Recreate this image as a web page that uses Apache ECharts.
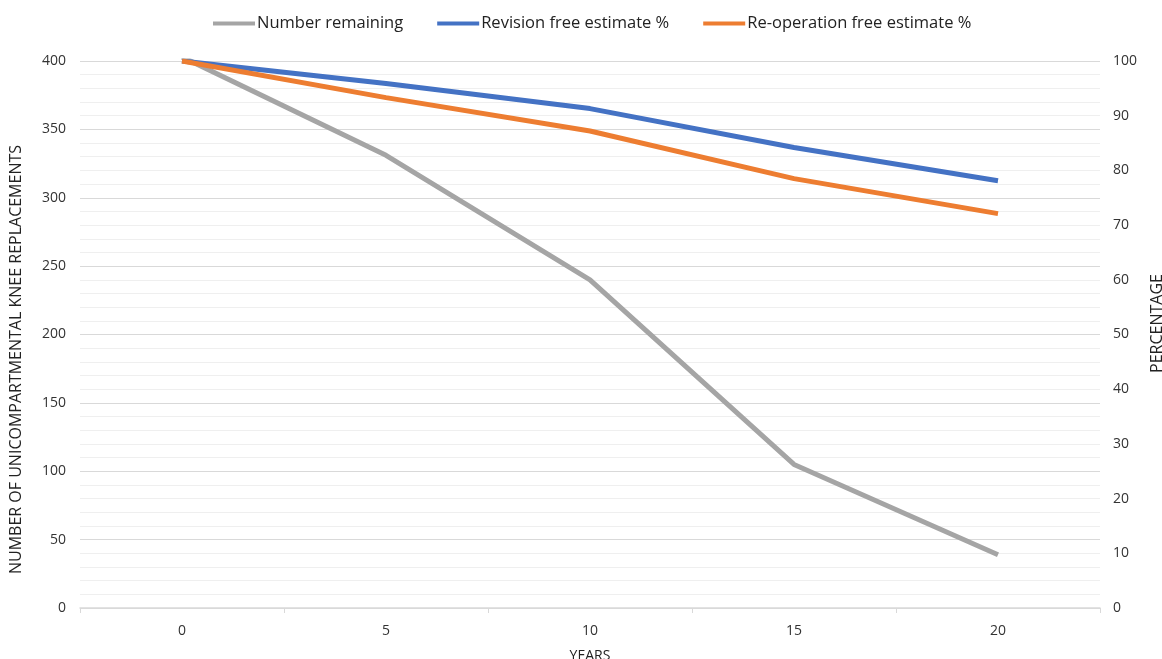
<!DOCTYPE html>
<html>
<head>
<meta charset="utf-8">
<script src="https://cdn.jsdelivr.net/npm/echarts@6/dist/echarts.min.js"></script>
<style>html,body{margin:0;padding:0;background:#fff}#c{width:1162px;height:659px}</style>
</head>
<body>
<div id="c"></div>
<script>
const years = ['0', '5', '10', '15', '20'];
const numberRemaining = [403, 331, 240, 105, 39];
const revisionFree = [100, 95.9, 91.3, 84.2, 78.1];
const reoperationFree = [100, 93.3, 87.2, 78.5, 72.1];

const font = 'Open Sans';
const chart = echarts.init(document.getElementById('c'));
chart.setOption({
  animation: false,
  backgroundColor: '#fff',
  textStyle: { fontFamily: font },
  legend: {
    top: 10,
    left: 208,
    itemWidth: 42,
    itemHeight: 4,
    itemGap: 34,
    icon: 'rect',
    textStyle: { fontSize: 16.5, color: '#222', fontFamily: font, padding: [0, 0, 0, -3] },
    data: ['Number remaining', 'Revision free estimate %', 'Re-operation free estimate %']
  },
  grid: { left: 80, right: 62, top: 61, bottom: 51, containLabel: false, outerBoundsMode: 'none' },
  xAxis: {
    type: 'category',
    data: years,
    boundaryGap: true,
    name: 'YEARS',
    nameLocation: 'middle',
    nameGap: 41,
    nameTextStyle: { fontSize: 14, color: '#222' },
    axisLine: { lineStyle: { color: '#d9d9d9', width: 1.5 } },
    axisTick: { show: true, length: 5, lineStyle: { color: '#d9d9d9' } },
    axisLabel: { fontSize: 14, color: '#333', margin: 16 }
  },
  yAxis: [
    {
      type: 'value',
      min: 0, max: 400, interval: 50,
      name: 'NUMBER OF UNICOMPARTMENTAL KNEE REPLACEMENTS',
      nameLocation: 'middle',
      nameGap: 56,
      nameTextStyle: { fontSize: 16, color: '#222', padding: [0, 50, 0, 0] },
      axisLine: { show: false },
      axisTick: { show: false },
      axisLabel: { fontSize: 14, color: '#333', margin: 14 },
      splitLine: { lineStyle: { color: '#d9d9d9', width: 1.2 } },
      minorTick: { show: false, splitNumber: 5 },
      minorSplitLine: { show: true, lineStyle: { color: '#efefef', width: 1 } }
    },
    {
      type: 'value',
      min: 0, max: 100, interval: 10,
      name: 'PERCENTAGE',
      nameLocation: 'middle',
      nameGap: 49,
      nameRotate: 90,
      nameTextStyle: { fontSize: 16, color: '#222', padding: [0, 0, 0, 22] },
      axisLine: { show: false },
      axisTick: { show: false },
      axisLabel: { fontSize: 14, color: '#333', margin: 13 },
      splitLine: { show: false }
    }
  ],
  series: [
    {
      name: 'Number remaining', type: 'line', yAxisIndex: 0,
      data: numberRemaining, showSymbol: false, symbol: 'none',
      lineStyle: { color: '#a5a5a5', width: 5 }, itemStyle: { color: '#a5a5a5' }
    },
    {
      name: 'Revision free estimate %', type: 'line', yAxisIndex: 1,
      data: revisionFree, showSymbol: false, symbol: 'none',
      lineStyle: { color: '#4472c4', width: 5 }, itemStyle: { color: '#4472c4' }
    },
    {
      name: 'Re-operation free estimate %', type: 'line', yAxisIndex: 1,
      data: reoperationFree, showSymbol: false, symbol: 'none',
      lineStyle: { color: '#ed7d31', width: 5 }, itemStyle: { color: '#ed7d31' }
    }
  ]
});
</script>
</body>
</html>
